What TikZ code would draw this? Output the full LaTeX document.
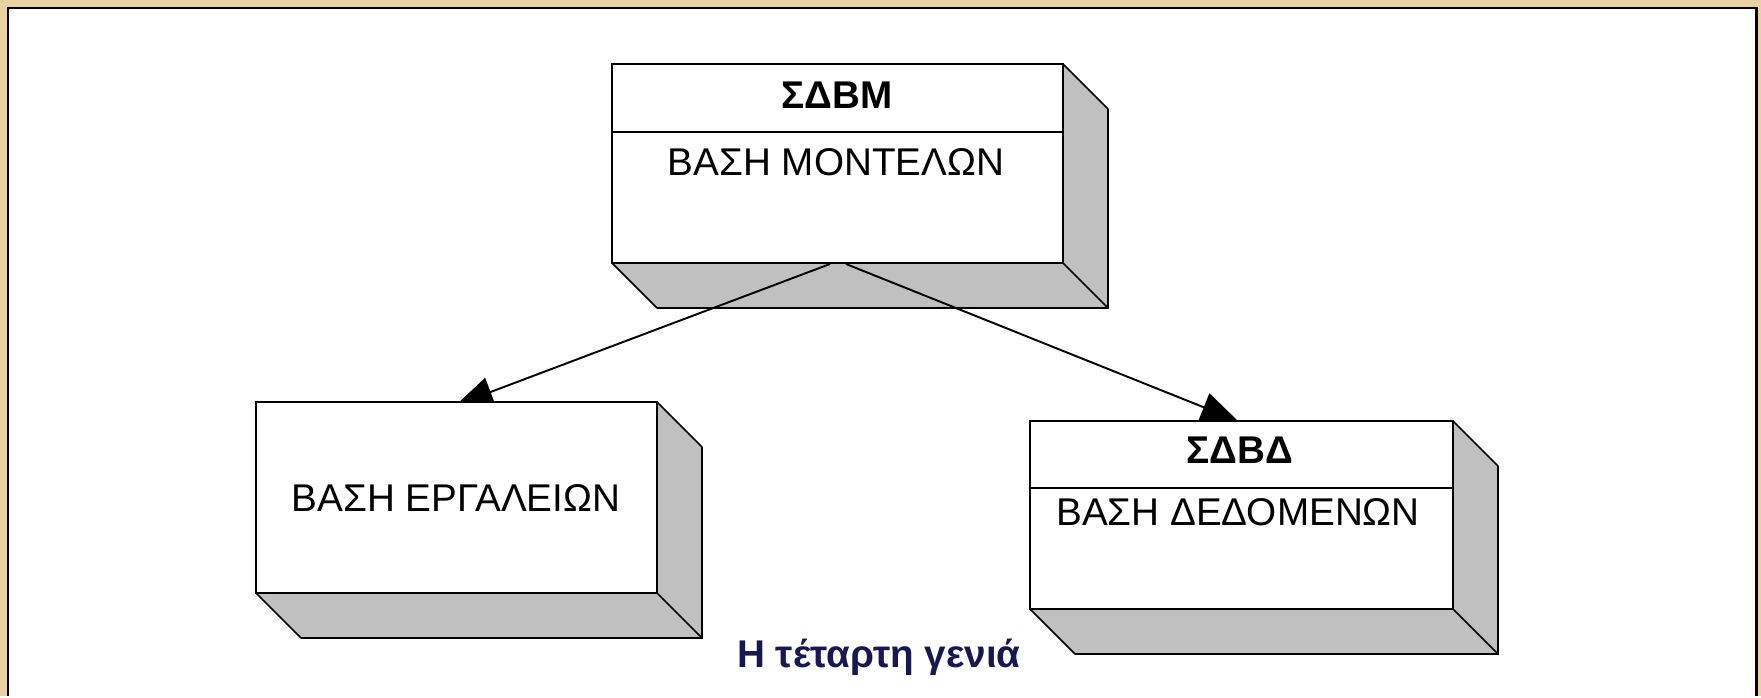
\documentclass[tikz,border=0pt]{standalone}
\usepackage{fontspec}
\setmainfont{Liberation Sans}
\usetikzlibrary{arrows.meta}
\definecolor{framegold}{RGB}{233,211,160}
\definecolor{cubegray}{RGB}{192,192,192}
\definecolor{captionnavy}{RGB}{24,24,80}
\tikzset{
  cubeside/.style={fill=cubegray},
  cubeedge/.style={draw=black, line width=0.9pt},
  cubeback/.style={draw=black, line width=1.6pt},
  cubefront/.style={fill=white, draw=black, line width=1.6pt},
  boxtitle/.style={inner sep=0pt, font=\fontsize{22}{26}\selectfont\bfseries},
  boxtext/.style={inner sep=0pt, font=\fontsize{22}{26}\selectfont},
  link/.style={line width=1.1pt, -{Triangle[length=21pt, width=17pt]}},
}
% front face from (#1,#2) to (#3,#4), depth 45 to the lower right
\newcommand{\drawcube}[4]{%
  \fill[cubeside] (#3,#2) -- (#3+45,#2+45) -- (#3+45,#4+45) -- (#1+45,#4+45) -- (#1,#4) -- (#3,#4) -- cycle;
  \draw[cubeedge] (#3,#2) -- (#3+45,#2+45) (#3,#4) -- (#3+45,#4+45) (#1,#4) -- (#1+45,#4+45);
  \draw[cubeback] (#3+45,#2+45) -- (#3+45,#4+45) -- (#1+45,#4+45);
  \draw[cubefront] (#1,#2) rectangle (#3,#4);
}

\begin{document}
\begin{tikzpicture}[x=0.02cm, y=-0.02cm]
      \coordinate (Mleft) at (830,264);
      \coordinate (Mright) at (846,264);
      \coordinate (Ein) at (456,405);
      \coordinate (Din) at (1238,421);

      % frame
      \fill [framegold] (0,0) rectangle (1761,696);
      \fill [white] (8,8) rectangle (1756,696);
      \draw [black, line width=1.7pt] (8,696) -- (8,8) -- (1756,8) -- (1756,696);

      % model base
      \drawcube{612}{64}{1063}{263}
      \draw [line width=1.6pt] (612,132) -- (1063,132);
      \node [boxtitle] (sdbm) at (837,95) {ΣΔΒΜ};
      \node [boxtext] (models) at (836,162) {ΒΑΣΗ ΜΟΝΤΕΛΩΝ};

      \draw [link] (Mleft) -- (Ein);
      \draw [link] (Mright) -- (Din);

      % tool base
      \drawcube{256}{402}{657}{593}
      \node [boxtext] (tools) at (456,498) {ΒΑΣΗ ΕΡΓΑΛΕΙΩΝ};

      % data base
      \drawcube{1030}{421}{1453}{609}
      \draw [line width=1.6pt] (1030,488) -- (1453,488);
      \node [boxtitle] (sdbd) at (1240,450) {ΣΔΒΔ};
      \node [boxtext] (data) at (1238,512) {ΒΑΣΗ ΔΕΔΟΜΕΝΩΝ};

      \node [boxtitle, text=captionnavy, anchor=base] (gen) at (879,667) {Η τέταρτη γενιά};
    \end{tikzpicture}
\end{document}
